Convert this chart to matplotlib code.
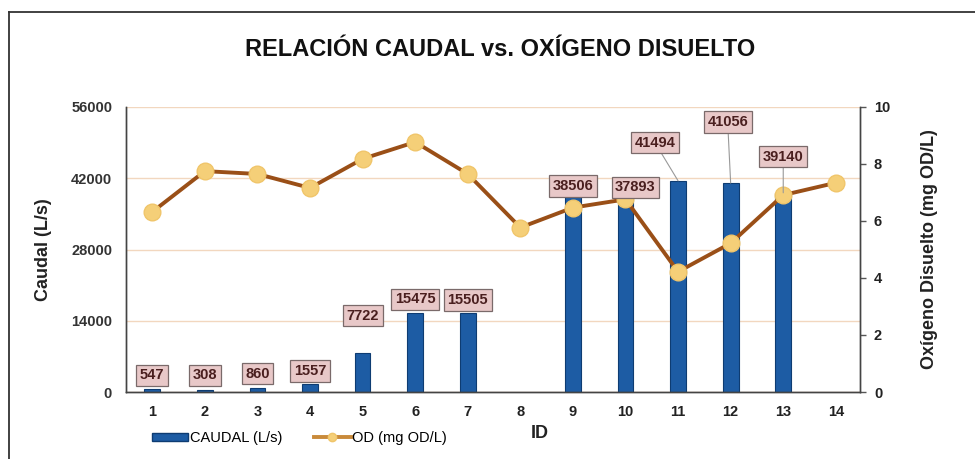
import matplotlib
matplotlib.use("Agg")
import matplotlib.pyplot as plt
from matplotlib.lines import Line2D
from matplotlib.patches import Patch

plt.rcParams['font.family'] = ['Liberation Sans', 'DejaVu Sans']

ids = [1, 2, 3, 4, 5, 6, 7, 8, 9, 10, 11, 12, 13, 14]
caudal = [547, 308, 860, 1557, 7722, 15475, 15505, None, 38506, 37893, 41494, 41056, 39140, None]
od = [6.32, 7.75, 7.65, 7.16, 8.18, 8.77, 7.65, 5.77, 6.47, 6.76, 4.22, 5.22, 6.91, 7.34]
left_ticks = [0, 14000, 28000, 42000, 56000]
right_ticks = [0, 2, 4, 6, 8, 10]

# label offsets in pixels (dx, dy) for the data labels
label_offsets = {1: (0, 14), 2: (0, 15), 3: (0, 14), 4: (0, 13), 5: (0, 37), 6: (0, 14),
                 7: (0, 13), 9: (0, 10), 10: (10, 12), 11: (-23, 38), 12: (-3, 61), 13: (0, 36)}
leader = {11, 12, 13}

fig = plt.figure(figsize=(9.75, 4.59), dpi=100)
ax1 = fig.add_axes([126/975, 1-392/459, (860-126)/975, (392-107)/459])
ax2 = ax1.twinx()

bx = [i for i, v in zip(ids, caudal) if v is not None]
bv = [v for v in caudal if v is not None]
ax1.bar(bx, bv, width=0.3, color='#1d5ca4', edgecolor='#0e3c72', linewidth=0.8, zorder=2)
ax1.set_ylim(0, 56000)
ax1.set_xlim(0.5, 14.46)
ax1.set_yticks(left_ticks)
ax1.set_xticks(ids)
ax1.grid(axis='y', color='#f2d7bf', linewidth=1.0, zorder=0)
ax1.set_axisbelow(True)
ax1.tick_params(axis='y', length=0, pad=10, labelsize=10.5, labelcolor='#333333')
ax1.tick_params(axis='x', length=0, pad=9, labelsize=10.5, labelcolor='#222222')
for lab in ax1.get_yticklabels() + ax1.get_xticklabels():
    lab.set_fontweight('bold')
ax1.set_ylabel('Caudal (L/s)', fontsize=13, fontweight='bold', color='#222222', labelpad=14)

ax2.plot(ids, od, color='#9a4f17', linewidth=2.8, marker='o', markersize=12,
         markerfacecolor='#f5cf78', markeredgecolor='#f0c56a', zorder=3)
ax2.set_ylim(0, 10)
ax2.set_yticks(right_ticks)
ax2.tick_params(axis='y', length=4, direction='out', width=1, color='#555555', pad=6,
                labelsize=10.5, labelcolor='#222222')
for lab in ax2.get_yticklabels():
    lab.set_fontweight('bold')
ax2.set_ylabel('Oxígeno Disuelto (mg OD/L)', fontsize=13, fontweight='bold', color='#222222', labelpad=22)

for ax in (ax1, ax2):
    ax.spines['top'].set_visible(False)
    for s in ('left', 'right', 'bottom'):
        ax.spines[s].set_color('#444444')
        ax.spines[s].set_linewidth(1.0)

for i, v in zip(ids, caudal):
    if v is None:
        continue
    dx, dy = label_offsets[i]
    ap = dict(arrowstyle='-', color='#999999', lw=0.8, shrinkA=0, shrinkB=0) if i in leader else None
    ax2.annotate(str(v), xy=(i, v), xycoords=ax1.transData, xytext=(dx, dy),
                 textcoords='offset pixels', ha='center', va='center',
                 fontsize=10.5, fontweight='bold', color='#4a1f1f',
                 bbox=dict(boxstyle='square,pad=0.25', facecolor='#e8c8c8', edgecolor='#7a6a6a', linewidth=0.9),
                 arrowprops=ap, zorder=5)

fig.text(500/975, 1-50/459, 'RELACIÓN CAUDAL vs. OXÍGENO DISUELTO', ha='center', va='center',
         fontsize=17, fontweight='bold', color='#111111')
fig.text(540/975, 1-434/459, 'ID', ha='center', va='center', fontsize=13, fontweight='bold', color='#222222')

handles = [Patch(facecolor='#1d5ca4', edgecolor='#0e3c72'),
           Line2D([0], [0], color='#c98a3a', linewidth=2.8, marker='o', markersize=6,
                  markerfacecolor='#f5cf78', markeredgecolor='#f0c56a')]
fig.legend(handles, ['CAUDAL (L/s)', 'OD (mg OD/L)'], loc='center left',
           bbox_to_anchor=(146/975, 1-438/459), ncol=2, frameon=False,
           fontsize=10.5, handlelength=2.5, handletextpad=0.1, columnspacing=2.2,
           handleheight=0.45, borderaxespad=0)

fig.add_artist(Line2D([9/975, 1.0], [1-12/459, 1-12/459], color='#333333', linewidth=1.3))
fig.add_artist(Line2D([9/975, 9/975], [0, 1-12/459], color='#333333', linewidth=1.3))

fig.savefig('out.png', dpi=100)
